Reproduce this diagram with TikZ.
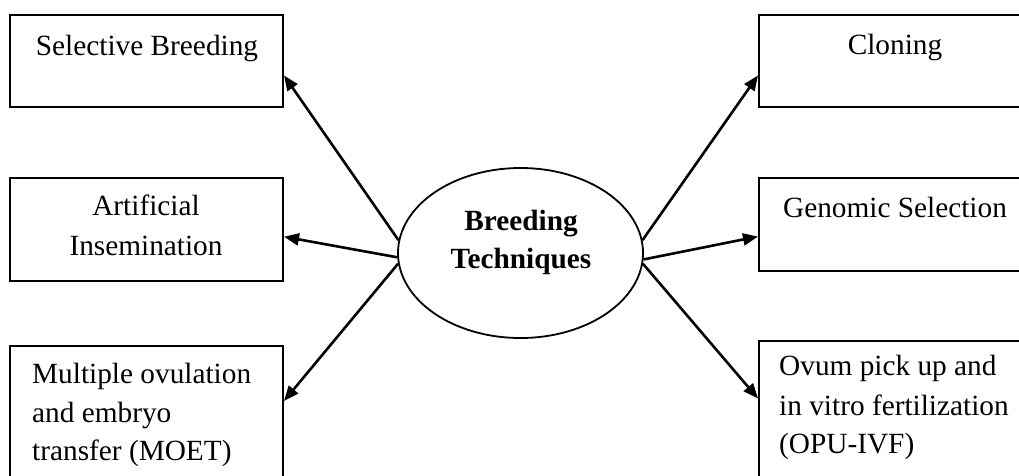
\documentclass[tikz,border=0pt]{standalone}
\usepackage{fontspec}
\setmainfont{Liberation Serif}
\usetikzlibrary{arrows.meta,shapes.geometric}
\tikzset{
  box/.style={draw=black, line width=2pt, rectangle, inner sep=0pt, fill=white},
  txt/.style={anchor=base, inner sep=0pt, font=\fontsize{29.3}{38.5}\selectfont},
  ltxt/.style={txt, anchor=base west},
  hub/.style={draw=black, line width=1.8pt, ellipse, inner sep=0pt, minimum width=245pt, minimum height=170pt},
  conn/.style={line width=2.6pt, -{Triangle[length=15pt,width=12pt]}}
}
\begin{document}
\begin{tikzpicture}[x=1pt,y=-1pt]
\useasboundingbox[fill=white] (0,0) rectangle (1019,475);
% boxes
\node[box, minimum width=273pt, minimum height=92pt]  (sb) at (146.5,61) {};
\node[box, minimum width=273pt, minimum height=103pt] (ai) at (146.5,229.5) {};
\node[box, minimum width=273pt, minimum height=134pt] (mo) at (146.5,413) {};
\node[box, minimum width=272pt, minimum height=92pt]  (cl) at (895,61) {};
\node[box, minimum width=272pt, minimum height=93pt]  (gs) at (895,224.5) {};
\node[box, minimum width=272pt, minimum height=139pt] (op) at (895,410.5) {};
% hub
\node[hub] (bt) at (520.5,253) {};
\node[txt, font=\fontsize{29.3}{38.5}\selectfont\bfseries] (bt1) at (521,230) {Breeding};
\node[txt, font=\fontsize{29.3}{38.5}\selectfont\bfseries] (bt2) at (521,268) {Techniques};
% texts
\node[txt] (sbt) at (147,55) {Selective Breeding};
\node[txt] (ait1) at (146,215) {Artificial};
\node[txt] (ait2) at (146,255) {Insemination};
\node[ltxt] (mot1) at (32,383) {Multiple ovulation};
\node[ltxt] (mot2) at (32,422) {and embryo};
\node[ltxt] (mot3) at (32,460) {transfer (MOET)};
\node[txt] (clt) at (895,54) {Cloning};
\node[txt] (gst) at (895,217) {Genomic Selection};
\node[ltxt] (opt1) at (779,375) {Ovum pick up and};
\node[ltxt] (opt2) at (779,415) {in vitro fertilization};
\node[ltxt] (opt3) at (779,453) {(OPU-IVF)};
% connectors
\draw[conn] (bt.174) -- (sb.-6.7);
\draw[conn] (bt.182) -- (ai.-3.6);
\draw[conn] (bt.185.5) -- (mo.5.4);
\draw[conn] (bt.6) -- (cl.186.7);
\draw[conn] (bt.357.5) -- (gs.185.7);
\draw[conn] (bt.355) -- (op.175.6);
\end{tikzpicture}
\end{document}
